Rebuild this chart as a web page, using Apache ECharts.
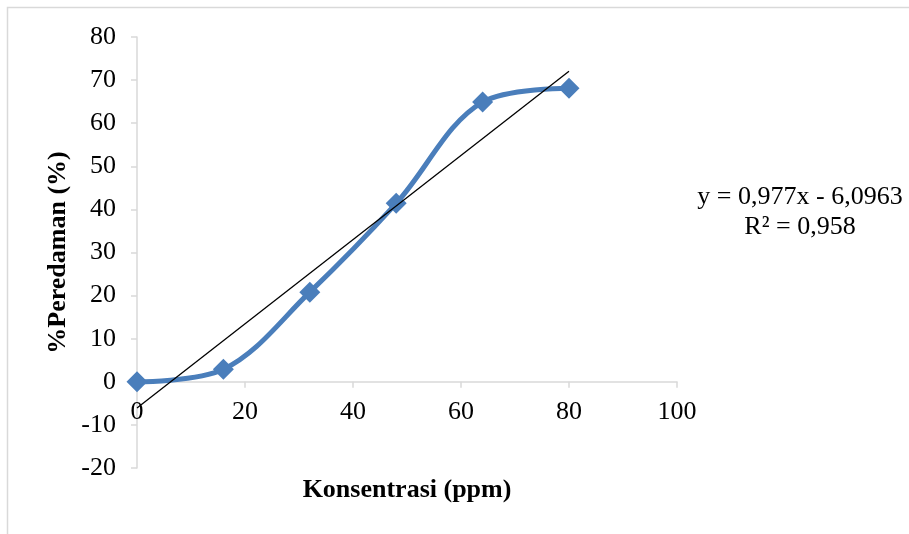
<!DOCTYPE html>
<html>
<head>
<meta charset="utf-8">
<script src="https://cdn.jsdelivr.net/npm/echarts@6/dist/echarts.min.js"></script>
<style>
  html, body { margin: 0; padding: 0; background: #ffffff; }
  #chart { width: 909px; height: 534px; }
</style>
</head>
<body>
<div id="chart"></div>
<script>
// Concentration (ppm) and measured inhibition (%)
const konsentrasi = [0, 16, 32, 48, 64, 80];
const peredaman = [0, 2.9, 20.8, 41.4, 64.9, 68.1];

// Linear trendline coefficients, as printed in the equation label
const slope = 0.977;
const intercept = -6.0963;
const rSquared = '0,958';
const trendRange = [0, 80];

const xTicks = { min: 0, max: 100, interval: 20 };
const yTicks = { min: -20, max: 80, interval: 10 };

const fmt = v => String(v).replace('.', ',');
const equationLine = 'y = ' + fmt(slope) + 'x - ' + fmt(Math.abs(intercept));
const rSquaredLine = 'R² = ' + rSquared;

const seriesData = konsentrasi.map((x, i) => [x, peredaman[i]]);
const trendData = trendRange.map(x => [x, slope * x + intercept]);

const serif = '"Liberation Serif", "Times New Roman", serif';
const axisGray = '#d9d9d9';
const fontSize = 26;

// Plot box
const W = 909, H = 534;
const grid = { left: 137, right: 232, top: 37, bottom: 66 };
const plotH = H - grid.top - grid.bottom;
// lift the horizontal axis (line, ticks, labels, title) up to the y = 0 level
const xAxisOffset = -plotH * (0 - yTicks.min) / (yTicks.max - yTicks.min);

const chart = echarts.init(document.getElementById('chart'), null, { renderer: 'canvas' });
chart.setOption({
  backgroundColor: '#ffffff',
  animation: false,
  grid: Object.assign({ containLabel: false, outerBoundsMode: 'none' }, grid),
  graphic: [
    {
      type: 'rect',
      shape: { x: 7.5, y: 7.5, width: 920, height: 560 },
      style: { fill: 'none', stroke: axisGray, lineWidth: 1.5 },
      silent: true
    },
    {
      type: 'text',
      x: 800, y: 197,
      style: { text: equationLine, font: fontSize + 'px ' + serif, fill: '#000', align: 'center', verticalAlign: 'middle' },
      silent: true
    },
    {
      type: 'text',
      x: 800, y: 227,
      style: { text: rSquaredLine, font: fontSize + 'px ' + serif, fill: '#000', align: 'center', verticalAlign: 'middle' },
      silent: true
    }
  ],
  xAxis: {
    type: 'value',
    min: xTicks.min, max: xTicks.max, interval: xTicks.interval,
    position: 'bottom',
    offset: xAxisOffset,
    name: 'Konsentrasi (ppm)',
    nameLocation: 'middle',
    nameGap: 95,
    nameMoveOverlap: false,
    nameTextStyle: { fontFamily: serif, fontSize: fontSize, fontWeight: 'bold', color: '#000' },
    axisLine: { onZero: false, lineStyle: { color: axisGray, width: 1.5 } },
    axisTick: { show: true, inside: false, length: 6, lineStyle: { color: axisGray, width: 1.5 } },
    axisLabel: { fontFamily: serif, fontSize: fontSize, color: '#000', margin: 17 },
    splitLine: { show: false }
  },
  yAxis: {
    type: 'value',
    min: yTicks.min, max: yTicks.max, interval: yTicks.interval,
    name: '%Peredaman (%)',
    nameLocation: 'middle',
    nameGap: 66,
    nameMoveOverlap: false,
    nameTextStyle: { fontFamily: serif, fontSize: fontSize, fontWeight: 'bold', color: '#000' },
    axisLine: { show: true, onZero: false, lineStyle: { color: axisGray, width: 1.5 } },
    axisTick: { show: true, inside: false, length: 6, lineStyle: { color: axisGray, width: 1.5 } },
    axisLabel: { fontFamily: serif, fontSize: fontSize, color: '#000', margin: 21 },
    splitLine: { show: false }
  },
  series: [
    {
      type: 'line',
      data: seriesData,
      smooth: 0.35,
      symbol: 'diamond',
      symbolSize: 21,
      lineStyle: { color: '#4a7ebb', width: 5 },
      itemStyle: { color: '#4a7ebb' },
      z: 2
    },
    {
      type: 'line',
      data: trendData,
      symbol: 'none',
      lineStyle: { color: '#000000', width: 1.3 },
      z: 3
    }
  ]
});
</script>
</body>
</html>
